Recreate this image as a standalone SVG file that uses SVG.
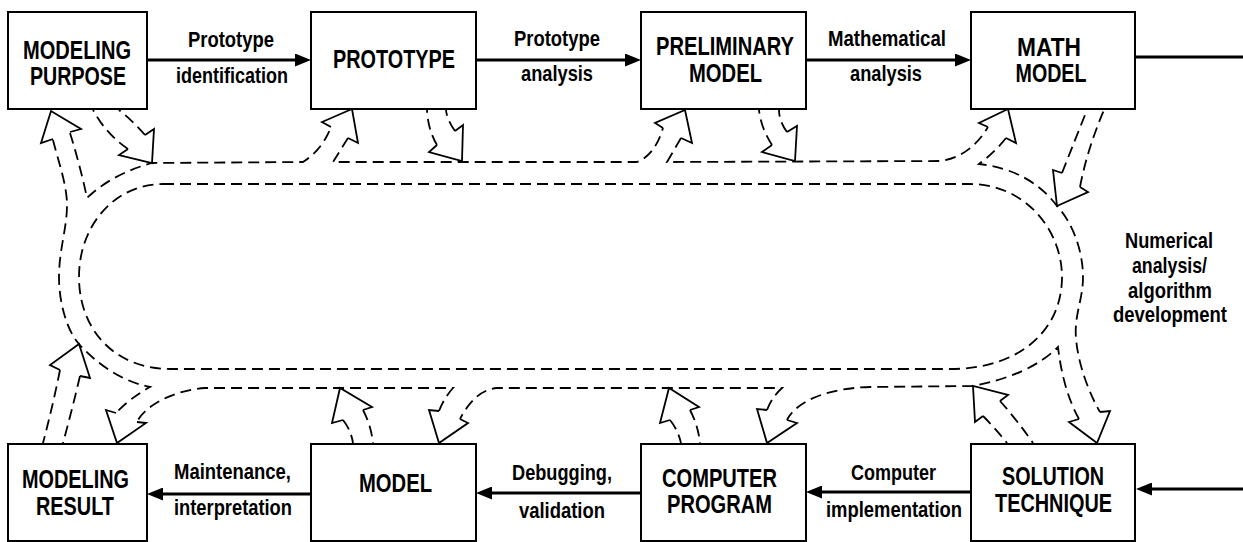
<svg xmlns="http://www.w3.org/2000/svg" width="1243" height="542" viewBox="0 0 1243 542">
  <style>
    .box{fill:#fff;stroke:#000;stroke-width:2}
    .lbl{font-family:"Liberation Sans",Arial,sans-serif;font-weight:bold;font-size:25px;text-anchor:middle;fill:#000}
    .elbl{font-family:"Liberation Sans",Arial,sans-serif;font-weight:bold;font-size:22px;text-anchor:middle;fill:#000}
    .flow{stroke:#000;stroke-width:3;fill:none}
    .dash{stroke:#000;stroke-width:1.8;fill:none;stroke-dasharray:11 6}
    .head{stroke:#000;stroke-width:1.8;fill:none;stroke-linejoin:miter}
  </style>
  <defs>
    <marker id="ah" viewBox="0 0 16 13" refX="1" refY="6.5" markerWidth="16" markerHeight="13" markerUnits="userSpaceOnUse" orient="auto">
      <path d="M0,0 L16,6.5 L0,13 z" fill="#000"/>
    </marker>
  </defs>
  <rect width="1243" height="542" fill="#fff"/>

  <!-- feedback loop: two-lane dashed channel with hollow branch arrows -->
  <g id="feedback">
    <!-- inner lane boundary -->
    <path class="dash" d="M163,184 L970,184 C1025,184 1062,230 1062,277 C1062,330 1020,369 950,369 L170,369 C115,369 79,330 79,277 C79,225 115,184 163,184 Z"/>
    <!-- outer lane boundary, piecewise between branches -->
    <path class="dash" d="M53,140 C58,160 67,185 67,205 C67,228 59,250 59,277 C59,305 68,332 79,344 C95,362 120,381 150,387 Q130,398 116,413"/>
    <path class="dash" d="M70,133 Q80,165 87,198 Q112,174 152,163 L303,162 Q322,150 331,127"/>
    <path class="dash" d="M348,138 L333,162 L637,162 Q655,155 663,128"/>
    <path class="dash" d="M681,138 L667,162 L940,161 Q970,157 988,127"/>
    <path class="dash" d="M1006,138 Q995,152 979,164 Q1030,170 1057,206 C1072,222 1083,250 1083,277 C1083,300 1074,315 1076,338 C1078,365 1090,395 1100,412"/>
    <path class="dash" d="M1079,419 Q1063,390 1058,347 Q1030,375 973,386 L870,387 C830,388 797,400 787,420"/>
    <path class="dash" d="M767,410 Q772,397 782,388 L497,388 Q475,390 460,419"/>
    <path class="dash" d="M439,411 Q444,398 453,388 L205,388 C175,390 145,405 137,422"/>
    <!-- branch shafts to and from the boxes -->
    <path class="dash" d="M128,149 Q106,134 93,110"/>
    <path class="dash" d="M145,135 Q133,121 119,110"/>
    <path class="dash" d="M437,145 Q428,130 427,110"/>
    <path class="dash" d="M455,131 Q447,120 446,110"/>
    <path class="dash" d="M772,145 Q761,128 759,110"/>
    <path class="dash" d="M787,132 Q779,121 779,110"/>
    <path class="dash" d="M1062,173 Q1075,140 1087,110"/>
    <path class="dash" d="M1080,187 Q1087,150 1104,110"/>
    <path class="dash" d="M983,416 Q995,428 1007,443"/>
    <path class="dash" d="M1000,401 Q1017,420 1033,443"/>
    <path class="dash" d="M670,420 Q678,430 681,443"/>
    <path class="dash" d="M690,410 Q698,425 700,443"/>
    <path class="dash" d="M343,420 Q351,430 353,443"/>
    <path class="dash" d="M363,410 Q371,425 373,443"/>
    <path class="dash" d="M60,370 Q53,405 43,443"/>
    <path class="dash" d="M80,376 Q72,410 63,443"/>
    <!-- hollow arrowheads -->
    <polyline class="head" points="53,139 41,143 51,111 81,129 70,132"/>
    <polyline class="head" points="128,149 119,155 152,163 154,129 145,135"/>
    <polyline class="head" points="331,127 322,122 352,109 358,143 348,138"/>
    <polyline class="head" points="437,145 429,152 462,161 463,125 455,131"/>
    <polyline class="head" points="663,128 655,123 685,110 692,143 681,138"/>
    <polyline class="head" points="772,145 762,152 795,161 797,126 787,132"/>
    <polyline class="head" points="988,127 979,123 1008,109 1016,143 1006,138"/>
    <polyline class="head" points="1062,173 1053,170 1057,206 1088,192 1080,187"/>
    <polyline class="head" points="1079,419 1069,422 1097,443 1110,411 1100,412"/>
    <polyline class="head" points="983,416 975,422 973,386 1008,395 1000,401"/>
    <polyline class="head" points="767,410 757,409 767,443 797,423 787,420"/>
    <polyline class="head" points="670,420 660,423 669,388 699,407 690,410"/>
    <polyline class="head" points="439,411 429,410 439,443 468,423 460,419"/>
    <polyline class="head" points="343,420 332,423 340,388 372,407 363,410"/>
    <polyline class="head" points="116,413 106,410 117,443 146,423 137,422"/>
    <polyline class="head" points="60,370 50,365 79,344 90,378 80,376"/>
  </g>

  <!-- main process flow -->
  <g id="connectors">
    <path class="flow" d="M147,60 H296" marker-end="url(#ah)"/>
    <path class="flow" d="M476,60 H626" marker-end="url(#ah)"/>
    <path class="flow" d="M806,60 H956" marker-end="url(#ah)"/>
    <path class="flow" d="M1135,57 H1243"/>
    <path class="flow" d="M1243,489 H1151" marker-end="url(#ah)"/>
    <path class="flow" d="M971,492 H821" marker-end="url(#ah)"/>
    <path class="flow" d="M641,493 H491" marker-end="url(#ah)"/>
    <path class="flow" d="M311,494 H162" marker-end="url(#ah)"/>

    <text class="elbl" x="231" y="47" textLength="86" lengthAdjust="spacingAndGlyphs">Prototype</text>
    <text class="elbl" x="232" y="83" textLength="112" lengthAdjust="spacingAndGlyphs">identification</text>
    <text class="elbl" x="557" y="46" textLength="86" lengthAdjust="spacingAndGlyphs">Prototype</text>
    <text class="elbl" x="557" y="81" textLength="72" lengthAdjust="spacingAndGlyphs">analysis</text>
    <text class="elbl" x="887" y="46" textLength="118" lengthAdjust="spacingAndGlyphs">Mathematical</text>
    <text class="elbl" x="886" y="81" textLength="72" lengthAdjust="spacingAndGlyphs">analysis</text>
    <text class="elbl" x="1169" y="248" textLength="88" lengthAdjust="spacingAndGlyphs">Numerical</text>
    <text class="elbl" x="1169.5" y="273" textLength="75" lengthAdjust="spacingAndGlyphs">analysis/</text>
    <text class="elbl" x="1170" y="298" textLength="84" lengthAdjust="spacingAndGlyphs">algorithm</text>
    <text class="elbl" x="1170" y="322" textLength="114" lengthAdjust="spacingAndGlyphs">development</text>
    <text class="elbl" x="232.5" y="479" textLength="117" lengthAdjust="spacingAndGlyphs">Maintenance,</text>
    <text class="elbl" x="233" y="515" textLength="118" lengthAdjust="spacingAndGlyphs">interpretation</text>
    <text class="elbl" x="562" y="480" textLength="100" lengthAdjust="spacingAndGlyphs">Debugging,</text>
    <text class="elbl" x="562" y="518" textLength="86" lengthAdjust="spacingAndGlyphs">validation</text>
    <text class="elbl" x="893.5" y="480" textLength="85" lengthAdjust="spacingAndGlyphs">Computer</text>
    <text class="elbl" x="894" y="517" textLength="136" lengthAdjust="spacingAndGlyphs">implementation</text>
  </g>

  <!-- process stages -->
  <g id="modeling-purpose">
    <rect class="box" x="8" y="12" width="139" height="97"/>
    <text class="lbl" x="77" y="59" textLength="108" lengthAdjust="spacingAndGlyphs">MODELING</text>
    <text class="lbl" x="78" y="85" textLength="96" lengthAdjust="spacingAndGlyphs">PURPOSE</text>
  </g>
  <g id="prototype">
    <rect class="box" x="311" y="12" width="165" height="97"/>
    <text class="lbl" x="394" y="68" textLength="122" lengthAdjust="spacingAndGlyphs">PROTOTYPE</text>
  </g>
  <g id="preliminary-model">
    <rect class="box" x="641" y="12" width="165" height="97"/>
    <text class="lbl" x="725" y="55" textLength="138" lengthAdjust="spacingAndGlyphs">PRELIMINARY</text>
    <text class="lbl" x="725.5" y="82" textLength="73" lengthAdjust="spacingAndGlyphs">MODEL</text>
  </g>
  <g id="math-model">
    <rect class="box" x="971" y="12" width="164" height="97"/>
    <text class="lbl" x="1049" y="56" textLength="64" lengthAdjust="spacingAndGlyphs">MATH</text>
    <text class="lbl" x="1051" y="82" textLength="71" lengthAdjust="spacingAndGlyphs">MODEL</text>
  </g>
  <g id="modeling-result">
    <rect class="box" x="8" y="444" width="139" height="97"/>
    <text class="lbl" x="75.5" y="488" textLength="107" lengthAdjust="spacingAndGlyphs">MODELING</text>
    <text class="lbl" x="75" y="515" textLength="78" lengthAdjust="spacingAndGlyphs">RESULT</text>
  </g>
  <g id="model">
    <rect class="box" x="311" y="444" width="165" height="97"/>
    <text class="lbl" x="395.5" y="492" textLength="73" lengthAdjust="spacingAndGlyphs">MODEL</text>
  </g>
  <g id="computer-program">
    <rect class="box" x="641" y="444" width="165" height="97"/>
    <text class="lbl" x="719.5" y="487" textLength="115" lengthAdjust="spacingAndGlyphs">COMPUTER</text>
    <text class="lbl" x="719.5" y="513" textLength="105" lengthAdjust="spacingAndGlyphs">PROGRAM</text>
  </g>
  <g id="solution-technique">
    <rect class="box" x="971" y="444" width="164" height="97"/>
    <text class="lbl" x="1053" y="485" textLength="102" lengthAdjust="spacingAndGlyphs">SOLUTION</text>
    <text class="lbl" x="1053.5" y="512" textLength="117" lengthAdjust="spacingAndGlyphs">TECHNIQUE</text>
  </g>
</svg>
